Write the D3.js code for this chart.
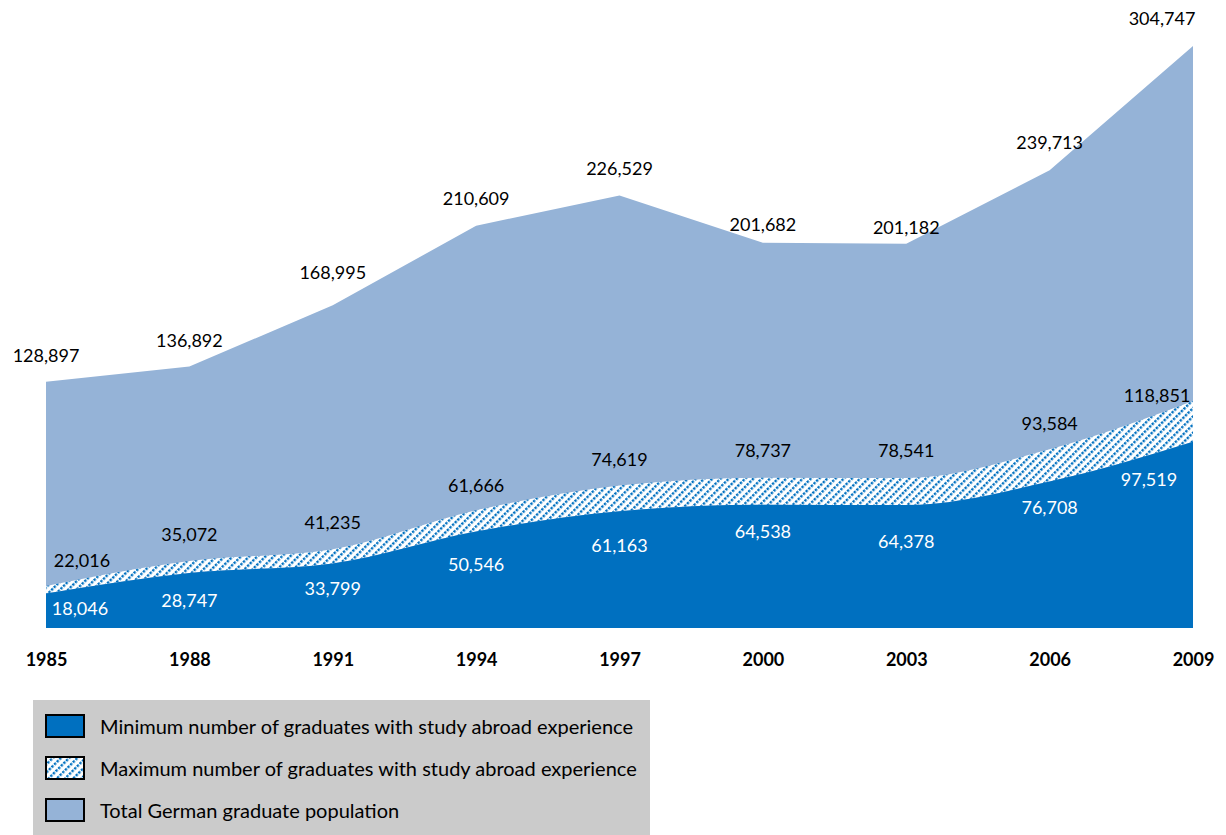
<!DOCTYPE html>
<html>
<head>
<meta charset="utf-8">
<script src="https://cdn.jsdelivr.net/npm/d3@7"></script>
<style>
  html, body { margin: 0; padding: 0; background: #fff; }
  svg { display: block; }
</style>
</head>
<body>
<svg id="chart" width="1226" height="835"></svg>
<script>
// Graduation years
const years = ["1985", "1988", "1991", "1994", "1997", "2000", "2003", "2006", "2009"];
// Total German graduate population
const totalGraduates = [128897, 136892, 168995, 210609, 226529, 201682, 201182, 239713, 304747];
// Maximum number of graduates with study abroad experience
const maxAbroad = [22016, 35072, 41235, 61666, 74619, 78737, 78541, 93584, 118851];
// Minimum number of graduates with study abroad experience
const minAbroad = [18046, 28747, 33799, 50546, 61163, 64538, 64378, 76708, 97519];

const legendLabels = [
  "Minimum number of graduates with study abroad experience",
  "Maximum number of graduates with study abroad experience",
  "Total German graduate population"
];

// Label nudges (pixels) relative to each point
const totalDx = [0, 0, 0, 0, 0, 0, 0, 0, -31];
const totalDy = [-27, -27, -33, -28, -27, -19, -17, -28, -28];
const maxDx = [36, 0, 0, 0, 0, 0, 0, 0, -36];
const maxDy = [-26, -27, -27, -25, -26, -28, -28, -26, -6];
const minDx = [34, 0, 0, 0, 0, 0, 0, 0, -44];
const minDy = [14, 27, 25, 33, 34, 26, 36, 25, 37];

const COLOR_MIN = "#0070c0";
const COLOR_TOTAL = "#95b3d7";
const FONT = "Lato, 'Liberation Sans', sans-serif";

const svg = d3.select("#chart");

const x = d3.scalePoint().domain(years).range([46, 1193]);
const y = d3.scaleLinear().domain([0, 304747]).range([628, 46]);

// Dotted upward-diagonal hatch: a row of dashes rotated by -45 degrees
const defs = svg.append("defs");
const pat = defs.append("pattern")
  .attr("id", "hatch")
  .attr("patternUnits", "userSpaceOnUse")
  .attr("width", 3.7).attr("height", 5.8)
  .attr("patternTransform", "rotate(-45)");
pat.append("rect").attr("width", 3.7).attr("height", 5.8).attr("fill", "#fff");
pat.append("rect")
  .attr("x", 0).attr("y", 0)
  .attr("width", 2.4).attr("height", 2.4)
  .attr("fill", COLOR_MIN);

const idx = d3.range(years.length);

// Total population area (straight segments)
const totalArea = d3.area()
  .x(i => x(years[i]))
  .y0(y(0))
  .y1(i => y(totalGraduates[i]))
  .curve(d3.curveLinear);

svg.append("path")
  .attr("d", totalArea(idx))
  .attr("fill", COLOR_TOTAL);

// Hatched band: minimum to maximum
const bandArea = d3.area()
  .x(i => x(years[i]))
  .y0(i => y(minAbroad[i]))
  .y1(i => y(maxAbroad[i]))
  .curve(d3.curveMonotoneX);

svg.append("path")
  .attr("d", bandArea(idx))
  .attr("fill", "url(#hatch)");

// Minimum area
const minArea = d3.area()
  .x(i => x(years[i]))
  .y0(y(0))
  .y1(i => y(minAbroad[i]))
  .curve(d3.curveMonotoneX);

svg.append("path")
  .attr("d", minArea(idx))
  .attr("fill", COLOR_MIN);

const fmt = d3.format(",");

function labels(values, dx, dy, color) {
  svg.append("g")
    .selectAll("text")
    .data(idx)
    .join("text")
    .attr("x", i => x(years[i]) + dx[i])
    .attr("y", i => y(values[i]) + dy[i])
    .attr("text-anchor", "middle")
    .attr("dominant-baseline", "central")
    .attr("font-family", FONT)
    .attr("font-size", 18)
    .attr("fill", color)
    .text(i => fmt(values[i]));
}

labels(totalGraduates, totalDx, totalDy, "#000");
labels(maxAbroad, maxDx, maxDy, "#000");
labels(minAbroad, minDx, minDy, "#fff");

// Year axis
const xAxis = svg.append("g")
  .attr("transform", "translate(0,660)")
  .call(d3.axisBottom(x).tickSize(0).tickPadding(0));
xAxis.select(".domain").remove();
xAxis.selectAll("text")
  .attr("font-family", FONT)
  .attr("font-size", 18)
  .attr("font-weight", "bold")
  .attr("fill", "#000")
  .attr("dy", "0.35em")
  .attr("y", 0);

// Legend
const legend = svg.append("g");
legend.append("rect")
  .attr("x", 33).attr("y", 700)
  .attr("width", 617).attr("height", 135)
  .attr("fill", "#cbcbcb");

const fills = [COLOR_MIN, "url(#hatch)", COLOR_TOTAL];
const rows = legend.selectAll("g.row")
  .data(legendLabels)
  .join("g")
  .attr("class", "row")
  .attr("transform", (d, i) => `translate(0,${726 + i * 42})`);

rows.append("rect")
  .attr("x", 46).attr("y", -11)
  .attr("width", 38).attr("height", 22)
  .attr("fill", (d, i) => fills[i])
  .attr("stroke", "#000")
  .attr("stroke-width", 2);

rows.append("text")
  .attr("x", 100).attr("y", 0)
  .attr("dominant-baseline", "central")
  .attr("font-family", FONT)
  .attr("font-size", 20)
  .attr("fill", "#000")
  .text(d => d);
</script>
</body>
</html>
